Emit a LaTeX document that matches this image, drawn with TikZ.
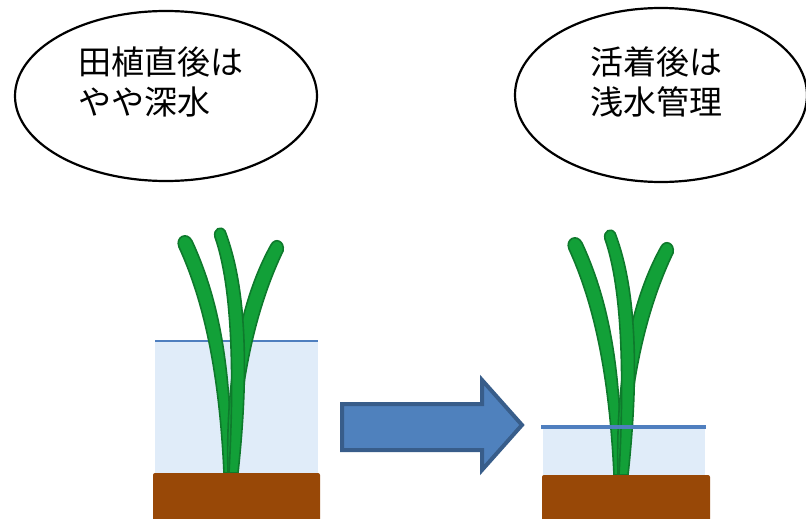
\documentclass[tikz,border=0pt]{standalone}
\usepackage{fontspec}
\newfontfamily\jp{Noto Sans CJK JP}
\usetikzlibrary{shapes.geometric}
\definecolor{soil}{HTML}{984807}
\definecolor{water}{HTML}{E0ECF9}
\definecolor{waterline}{HTML}{4F7FBF}
\definecolor{leafdark}{HTML}{0E7A2C}
\definecolor{leaf}{HTML}{12A038}
\definecolor{arrowfill}{HTML}{4F81BD}
\definecolor{arrowedge}{HTML}{385D8A}
\tikzset{
  bubble/.style={draw=black, line width=2.2pt, ellipse, fill=white},
  caption/.style={font=\jp\fontsize{33}{40}\selectfont, align=left, anchor=north west, inner sep=0pt},
  soilbox/.style={fill=soil, rounded corners=2pt},
  waterbox/.style={fill=water},
  leafshape/.style={fill=leaf, draw=leafdark, line width=1.6pt, line join=round},
  plant/.pic={
    % outer left leaf
    \draw[leafshape] (-5,0) .. controls (-10,-110) and (-28,-178) .. (-50,-226)
      .. controls (-54,-236) and (-42,-242) .. (-37,-232)
      .. controls (-12,-178) and (3,-110) .. (2,0) -- cycle;
    % outer right leaf
    \draw[leafshape] (-1,0) .. controls (-4,-100) and (14,-178) .. (42,-228)
      .. controls (46,-236) and (56,-232) .. (54,-222)
      .. controls (30,-172) and (10,-100) .. (7,0) -- cycle;
    % middle leaf
    \draw[leafshape] (0,0) .. controls (6,-110) and (2,-190) .. (-14,-236)
      .. controls (-16,-244) and (-8,-248) .. (-4,-242)
      .. controls (16,-190) and (21,-110) .. (9,0) -- cycle;
  }
}
\begin{document}
\begin{tikzpicture}[x=1pt,y=-1pt]
  \useasboundingbox (0,0) rectangle (806,519);

  % speech bubbles
  \node[bubble, minimum width=302, minimum height=170] (b1) at (166,96) {};
  \node[caption] (t1) at (78,46) {田植直後は\\やや深水};
  \node[bubble, minimum width=292, minimum height=174] (b2) at (661,95) {};
  \node[caption] (t2) at (590,46) {活着後は\\浅水管理};

  % left pot: deep water
  \fill[waterbox] (155,341) rectangle (318,474);
  \draw[waterline, line width=1.3pt] (155,341) -- (318,341);
  \pic at (229,473) {plant};
  \fill[soilbox] (153,473) rectangle (320,525);

  % right pot: shallow water
  \fill[waterbox] (543,427) rectangle (705,476);
  \pic at (619,475) {plant};
  \draw[waterline, line width=3.5pt] (541,427) -- (706,427);
  \fill[soilbox] (542,475) rectangle (710,525);

  % transition arrow
  \draw[fill=arrowfill, draw=arrowedge, line width=4pt, line join=miter]
    (342,404) -- (482,404) -- (482,380) -- (522,425) -- (482,470)
    -- (482,450) -- (342,450) -- cycle;
\end{tikzpicture}
\end{document}
